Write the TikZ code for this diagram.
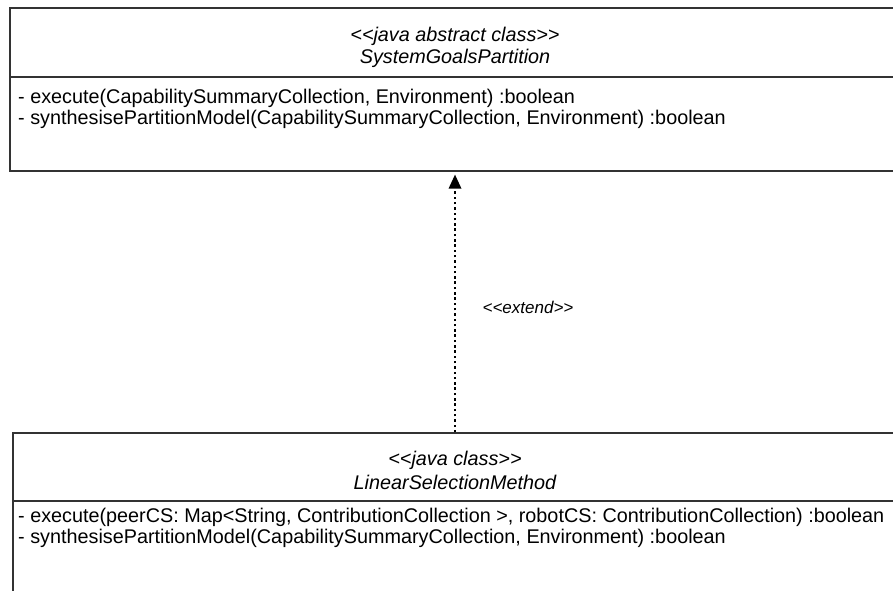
\documentclass[tikz,border=0pt]{standalone}
\usepackage{fontspec}
\setmainfont{Liberation Sans}
\usetikzlibrary{arrows.meta}
% plain angle brackets, kept apart so the font mapping does not turn them into guillemets
\newcommand{\dlt}{<\kern0pt<}
\newcommand{\dgt}{>\kern0pt>}
\begin{document}
\begin{tikzpicture}[x=1pt,y=-1pt,
  classbox/.style={draw=black!80, line width=1.3pt, rectangle, inner sep=0pt},
  divider/.style={draw=black!80, line width=1.3pt},
  headtext/.style={font=\fontsize{19.8}{23}\selectfont\itshape, inner sep=0pt, anchor=center},
  membertext/.style={font=\fontsize{19.8}{23}\selectfont, inner sep=0pt, anchor=west},
  extendarrow/.style={black, line width=2.5pt, dash pattern=on 2.5pt off 2.8pt,
    -{Triangle[width=13pt,length=14pt,line width=0pt]}, shorten >=3pt},
  steretext/.style={font=\fontsize{17}{20}\selectfont\itshape, inner sep=0pt, anchor=center}]
  \useasboundingbox (0,0) rectangle (893,590);
  \fill[white] (0,0) rectangle (893,590);

  % abstract class
  \node[classbox, minimum width=890pt, minimum height=163pt] (abs) at (455,89.5) {};
  \draw[divider] (abs.west |- 0,77) -- (abs.east |- 0,77);
  \node[headtext] (absster) at (455,36) {\dlt java abstract class\dgt};
  \node[headtext] (absname) at (455,58) {SystemGoalsPartition};
  \node[membertext] (absm1) at (18,98) {- execute(CapabilitySummaryCollection, Environment) :boolean};
  \node[membertext] (absm2) at (18,119) {- synthesisePartitionModel(CapabilitySummaryCollection, Environment) :boolean};

  % concrete class
  \node[classbox, minimum width=884pt, minimum height=177pt] (lin) at (455,521.5) {};
  \draw[divider] (lin.west |- 0,501) -- (lin.east |- 0,501);
  \node[headtext] (linster) at (455,460) {\dlt java class\dgt};
  \node[headtext] (linname) at (455,482) {LinearSelectionMethod};
  \node[membertext] (linm1) at (18,517) {- execute(peerCS: Map\textless String, ContributionCollection \textgreater, robotCS: ContributionCollection) :boolean};
  \node[membertext] (linm2) at (18,538) {- synthesisePartitionModel(CapabilitySummaryCollection, Environment) :boolean};

  % extends relation
  \draw[extendarrow] (lin.north) -- (abs.south);
  \node[steretext] (ext) at (528,307) {\dlt extend\dgt};
\end{tikzpicture}
\end{document}
